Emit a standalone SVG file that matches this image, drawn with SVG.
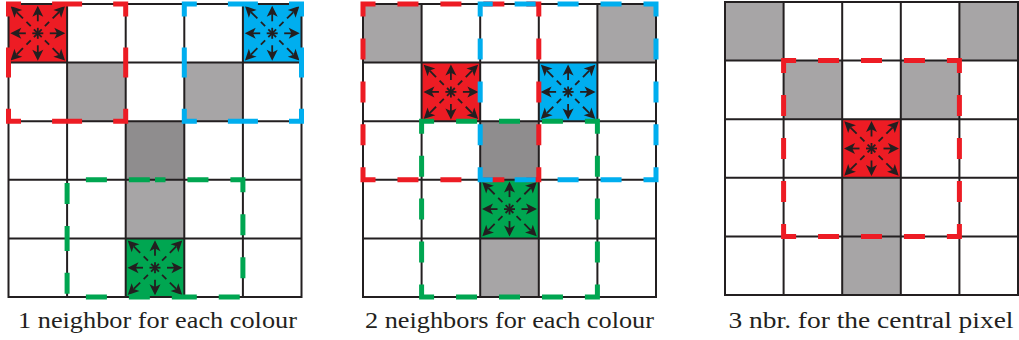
<svg xmlns="http://www.w3.org/2000/svg" xmlns:xlink="http://www.w3.org/1999/xlink" width="1019" height="340" viewBox="0 0 1019 340">
<style>
.lg{fill:#a7a5a6}
.dg{fill:#8f8d8e}
.red{fill:#ed1c24}
.blue{fill:#00aeef}
.green{fill:#00a651}
.grid{fill:none;stroke:#231f20;stroke-width:2;stroke-linecap:square}
.d3{fill:none;stroke-width:5;stroke-linejoin:miter;stroke-linecap:butt;stroke-dasharray:21 21.95 21 21.95 25 21.95 21 21.95;stroke-dashoffset:10.5}
.d2{fill:none;stroke-width:5;stroke-linejoin:miter;stroke-linecap:butt;stroke-dasharray:30 31.1 25 31.1;stroke-dashoffset:15}
.sr{stroke:#ed1c24}.sb{stroke:#00aeef}.sg{stroke:#00a651}
.ray{stroke:#231f20;stroke-width:1.8}
.head{fill:#231f20}
</style>
<defs>
<path id="gridlines" class="grid" d="M0 0H293M0 58.6H293M0 117.2H293M0 175.8H293M0 234.4H293M0 293H293M0 0V293M58.6 0V293M117.2 0V293M175.8 0V293M234.4 0V293M293 0V293"/>
<g id="ortho">
<line class="ray" x1="12" y1="0" x2="20" y2="0"/>
<path class="head" d="M27.5 0L16.5 -5.5L19.2 0L16.5 5.5Z"/>
</g>
<g id="diag">
<line class="ray" x1="10" y1="0" x2="16" y2="0"/>
<line class="ray" x1="21" y1="0" x2="30" y2="0"/>
<path class="head" d="M38.5 0L27.5 -5.5L30.2 0L27.5 5.5Z"/>
</g>
<g id="rays">
<g class="ray">
<line x1="-5.5" y1="0" x2="5.5" y2="0"/>
<line x1="0" y1="-5.5" x2="0" y2="5.5"/>
<line x1="-3.9" y1="-3.9" x2="3.9" y2="3.9"/>
<line x1="-3.9" y1="3.9" x2="3.9" y2="-3.9"/>
</g>
<use xlink:href="#ortho"/>
<use xlink:href="#ortho" transform="rotate(90)"/>
<use xlink:href="#ortho" transform="rotate(180)"/>
<use xlink:href="#ortho" transform="rotate(270)"/>
<use xlink:href="#diag" transform="rotate(45)"/>
<use xlink:href="#diag" transform="rotate(135)"/>
<use xlink:href="#diag" transform="rotate(225)"/>
<use xlink:href="#diag" transform="rotate(315)"/>
</g>
</defs>

<g id="panel1" transform="translate(8.5,4)">
<g id="p1-gray">
<rect class="lg" x="58.6" y="58.6" width="58.6" height="58.6"/>
<rect class="lg" x="175.8" y="58.6" width="58.6" height="58.6"/>
<rect class="dg" x="117.2" y="117.2" width="58.6" height="58.6"/>
<rect class="lg" x="117.2" y="175.8" width="58.6" height="58.6"/>
</g>
<g id="p1-red"><rect class="red" x="0" y="0" width="58.6" height="58.6"/><use xlink:href="#rays" x="29.3" y="29.3"/></g>
<g id="p1-blue"><rect class="blue" x="234.4" y="0" width="58.6" height="58.6"/><use xlink:href="#rays" x="263.7" y="29.3"/></g>
<g id="p1-green"><rect class="green" x="117.2" y="234.4" width="58.6" height="58.6"/><use xlink:href="#rays" x="146.5" y="263.7"/></g>
<use xlink:href="#gridlines"/>
<g id="p1-connectors">
<path class="d2 sr" d="M58.6 0H117.2V117.2H0V0Z"/>
<path class="d2 sb" d="M234.4 0H293V117.2H175.8V0Z"/>
<path class="d3 sg" d="M146.5 175.8H234.4V293H58.6V175.8Z"/>
</g>
</g>

<g id="panel2" transform="translate(363,4)">
<g id="p2-gray">
<rect class="lg" x="0" y="0" width="58.6" height="58.6"/>
<rect class="lg" x="234.4" y="0" width="58.6" height="58.6"/>
<rect class="dg" x="117.2" y="117.2" width="58.6" height="58.6"/>
<rect class="lg" x="117.2" y="234.4" width="58.6" height="58.6"/>
</g>
<g id="p2-red"><rect class="red" x="58.6" y="58.6" width="58.6" height="58.6"/><use xlink:href="#rays" x="87.9" y="87.9"/></g>
<g id="p2-blue"><rect class="blue" x="175.8" y="58.6" width="58.6" height="58.6"/><use xlink:href="#rays" x="205.1" y="87.9"/></g>
<g id="p2-green"><rect class="green" x="117.2" y="175.8" width="58.6" height="58.6"/><use xlink:href="#rays" x="146.5" y="205.1"/></g>
<use xlink:href="#gridlines"/>
<g id="p2-connectors">
<path class="d3 sr" d="M87.9 0H175.8V175.8H0V0Z"/>
<path class="d3 sb" d="M205.1 0H293V175.8H117.2V0Z"/>
<path class="d3 sg" d="M146.5 117.2H234.4V293H58.6V117.2Z"/>
</g>
</g>

<g id="panel3" transform="translate(725,2)">
<g id="p3-gray">
<rect class="lg" x="0" y="0" width="58.6" height="58.6"/>
<rect class="lg" x="234.4" y="0" width="58.6" height="58.6"/>
<rect class="lg" x="58.6" y="58.6" width="58.6" height="58.6"/>
<rect class="lg" x="175.8" y="58.6" width="58.6" height="58.6"/>
<rect class="lg" x="117.2" y="175.8" width="58.6" height="58.6"/>
<rect class="lg" x="117.2" y="234.4" width="58.6" height="58.6"/>
</g>
<g id="p3-red"><rect class="red" x="117.2" y="117.2" width="58.6" height="58.6"/><use xlink:href="#rays" x="146.5" y="146.5"/></g>
<use xlink:href="#gridlines"/>
<g id="p3-connectors">
<path class="d3 sr" d="M146.5 58.6H234.4V234.4H58.6V58.6Z"/>
</g>
</g>

<g id="labels" font-family="'Liberation Serif', 'Times New Roman', serif" font-size="23" fill="#231f20" text-anchor="middle">
<text x="157.5" y="328" textLength="279" lengthAdjust="spacingAndGlyphs">1 neighbor for each colour</text>
<text x="509.5" y="328" textLength="289" lengthAdjust="spacingAndGlyphs">2 neighbors for each colour</text>
<text x="871" y="328" textLength="285" lengthAdjust="spacingAndGlyphs">3 nbr. for the central pixel</text>
</g>
</svg>
